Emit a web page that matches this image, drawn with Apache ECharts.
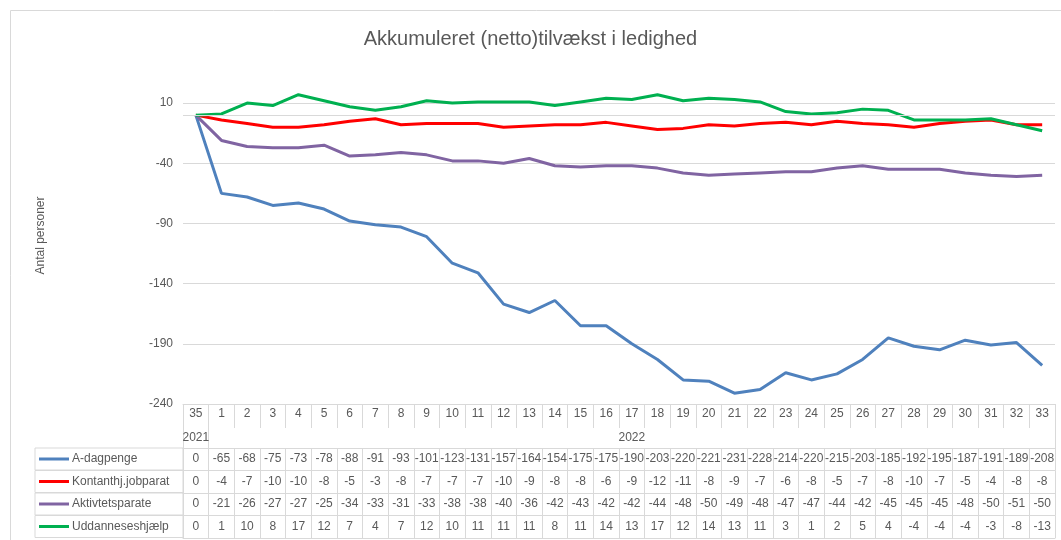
<!DOCTYPE html>
<html>
<head>
    <meta charset="utf-8">
    <title>Akkumuleret tilvækst</title>
    <script src="https://cdn.jsdelivr.net/npm/echarts@6/dist/echarts.min.js"></script>
</head>
<body style="margin:0">
<div id="main" style="width: 1061px;height:540px;"></div>
<script type="text/javascript">
    // uger (35 = 2021, resten 2022)
    var weeks = ['35', '1', '2', '3', '4', '5', '6', '7', '8', '9', '10', '11', '12', '13', '14', '15', '16',
        '17', '18', '19', '20', '21', '22', '23', '24', '25', '26', '27', '28', '29', '30', '31', '32', '33'];
    var years = ['2021', '2022'];

    var aDagpenge = [0, -65, -68, -75, -73, -78, -88, -91, -93, -101, -123, -131, -157, -164, -154, -175, -175,
        -190, -203, -220, -221, -231, -228, -214, -220, -215, -203, -185, -192, -195, -187, -191, -189, -208];
    var kontanthj = [0, -4, -7, -10, -10, -8, -5, -3, -8, -7, -7, -7, -10, -9, -8, -8, -6,
        -9, -12, -11, -8, -9, -7, -6, -8, -5, -7, -8, -10, -7, -5, -4, -8, -8];
    var aktivitet = [0, -21, -26, -27, -27, -25, -34, -33, -31, -33, -38, -38, -40, -36, -42, -43, -42,
        -42, -44, -48, -50, -49, -48, -47, -47, -44, -42, -45, -45, -45, -48, -50, -51, -50];
    var uddannelse = [0, 1, 10, 8, 17, 12, 7, 4, 7, 12, 10, 11, 11, 11, 8, 11, 14,
        13, 17, 12, 14, 13, 11, 3, 1, 2, 5, 4, -4, -4, -4, -3, -8, -13];

    var seriesNames = ['A-dagpenge', 'Kontanthj.jobparat', 'Aktivtetsparate', 'Uddanneseshjælp'];
    var seriesData = [aDagpenge, kontanthj, aktivitet, uddannelse];
    var colors = ['#4f81bd', '#ff0000', '#8064a2', '#00b050'];

    var border = '#d9d9d9';
    var txt = '#595959';
    var font = 'Liberation Sans';

    // årstal-række: 2021 under uge 35, 2022 midt under 2022-ugerne
    var yearLabels = weeks.map(function (w, i) {
        if (i === 0) return years[0];
        if (i === 17) return years[1];
        return '';
    });

    var xAxes = [{
        type: 'category',
        position: 'bottom',
        data: weeks,
        axisLine: {onZero: false, lineStyle: {color: border}},
        axisTick: {show: true, length: 24, lineStyle: {color: border}},
        axisLabel: {interval: 0, margin: 4, color: txt, fontSize: 12, fontFamily: font}
    }, {
        type: 'category',
        position: 'bottom',
        data: yearLabels,
        offset: 24,
        axisLine: {show: false, onZero: false},
        axisTick: {show: true, length: 20, interval: function (i) { return i <= 1; }, lineStyle: {color: border}},
        axisLabel: {interval: 0, margin: 4, color: txt, fontSize: 12, fontFamily: font}
    }];

    // en tabelrække pr. serie, med farvenøgle og navn til venstre
    seriesData.forEach(function (d, i) {
        var rich = {
            s: {width: 4},
            k: {width: 30, height: 3, backgroundColor: colors[i]},
            g: {width: 3},
            t: {color: txt, fontSize: 12, fontFamily: font, lineHeight: 22}
        };
        xAxes.push({
            type: 'category',
            position: 'bottom',
            data: d.map(String),
            offset: 44 + 22.5 * i,
            name: '{s|}{k|}{g|}{t|' + seriesNames[i] + '}',
            nameLocation: 'start',
            nameGap: 148,
            nameTruncate: {maxWidth: 148, ellipsis: ''},
            nameTextStyle: {
                align: 'left', verticalAlign: 'top', width: 148, height: 22,
                borderColor: border, borderWidth: 1, rich: rich
            },
            axisLine: {onZero: false, lineStyle: {color: border}},
            axisTick: {show: true, length: 22.5, lineStyle: {color: border}},
            axisLabel: {interval: 0, margin: 5, color: txt, fontSize: 12, fontFamily: font}
        });
    });

    // bundlinje i tabellen
    xAxes.push({
        type: 'category',
        position: 'bottom',
        data: weeks,
        offset: 134,
        axisLine: {onZero: false, lineStyle: {color: border}},
        axisTick: {show: false},
        axisLabel: {show: false}
    });

    var series = seriesData.map(function (d, i) {
        var s = {
            name: seriesNames[i],
            type: 'line',
            data: d,
            showSymbol: false,
            color: colors[i],
            lineStyle: {width: 3, color: colors[i]}
        };
        if (i === 0) {
            s.markLine = {
                silent: true,
                symbol: 'none',
                label: {show: false},
                lineStyle: {color: border, type: 'solid', width: 1},
                data: [{yAxis: 0}]
            };
        }
        return s;
    });

    var chart = echarts.init(document.getElementById('main'));
    chart.setOption({
        animation: false,
        title: {
            text: 'Akkumuleret (netto)tilvækst i ledighed',
            left: 'center',
            top: 24,
            textStyle: {fontSize: 20, fontWeight: 'normal', color: txt, fontFamily: font}
        },
        graphic: [{
            type: 'rect',
            shape: {x: 10.5, y: 10.5, width: 1100, height: 600},
            style: {fill: 'none', stroke: border, lineWidth: 1},
            silent: true
        }],
        grid: {left: 183, right: 6, top: 67, bottom: 136, outerBoundsMode: 'none'},
        xAxis: xAxes,
        yAxis: {
            type: 'value',
            min: -240,
            max: 40,
            interval: 50,
            name: 'Antal personer',
            nameLocation: 'middle',
            nameGap: 136,
            nameTextStyle: {color: txt, fontSize: 12, fontFamily: font},
            axisLine: {show: false},
            axisTick: {show: false},
            axisLabel: {color: txt, fontSize: 12, fontFamily: font, margin: 10, showMaxLabel: false},
            splitLine: {lineStyle: {color: border}, showMaxLine: false}
        },
        series: series
    });
</script>
</body>
</html>
